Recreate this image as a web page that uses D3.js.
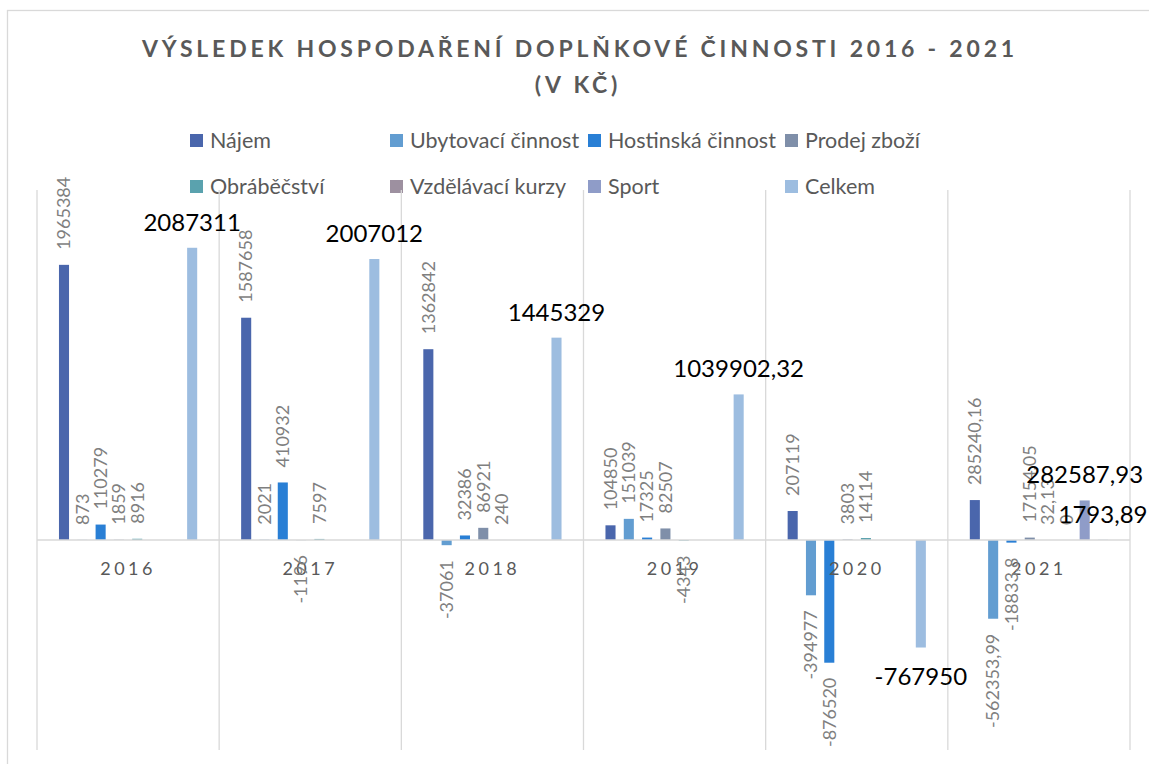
<!DOCTYPE html>
<html>
<head>
<meta charset="utf-8">
<script src="https://cdn.jsdelivr.net/npm/d3@7"></script>
<style>
  body { margin: 0; background: #fff; }
  svg { font-family: Lato, "Open Sans", sans-serif; }
</style>
</head>
<body>
<div id="chart"></div>
<script>
// data (Kč)
const years = ["2016", "2017", "2018", "2019", "2020", "2021"];
const seriesNames = ["Nájem", "Ubytovací činnost", "Hostinská činnost", "Prodej zboží",
                     "Obráběčství", "Vzdělávací kurzy", "Sport", "Celkem"];
const najem       = [1965384, 1587658, 1362842, 104850, 207119, 285240.16];
const ubytovani   = [873, 2021, -37061, 151039, -394977, -562353.99];
const hostinska   = [110279, 410932, 32386, 17325, -876520, -18833.8];
const prodej      = [1859, -1196, 86921, 82507, 3803, 17154.05];
const obrabecstvi = [8916, 7597, 240, -4343, 14114, 32.13];
const kurzy       = [null, null, null, null, null, 0];
const sport       = [null, null, null, null, null, 282587.93];
const celkem      = [2087311, 2007012, 1445329, 1039902.32, -767950, 1793.89];

const seriesValues = [najem, ubytovani, hostinska, prodej, obrabecstvi, kurzy, sport, celkem];
const colors = ["#4a66ac", "#629dd1", "#297fd5", "#7f8fa9", "#5aa2ae", "#9d90a0", "#8f9cc8", "#9dbde0"];
// series with big black horizontal labels
const bigLabel = ["Sport", "Celkem"];

const width = 1149, height = 764;
const plot = { left: 37, right: 1130, top: 190, bottom: 750 };

const svg = d3.select("#chart").append("svg")
    .attr("width", width)
    .attr("height", height);

// outer chart frame
svg.append("rect")
    .attr("x", 7.5).attr("y", 10.5)
    .attr("width", 1200).attr("height", 800)
    .attr("fill", "none")
    .attr("stroke", "#d9d9d9")
    .attr("stroke-width", 1.3);

const x0 = d3.scaleBand()
    .domain(years)
    .range([plot.left, plot.right])
    .padding(0);

const x1 = d3.scaleBand()
    .domain(seriesNames)
    .range([0, x0.bandwidth()])
    .paddingInner(0.45)
    .paddingOuter(1.2);

const y = d3.scaleLinear()
    .domain([-1500000, 2500000])
    .range([plot.bottom, plot.top]);

const fmt = v => String(v).replace(".", ",");

// title
const title = svg.append("text")
    .attr("text-anchor", "middle")
    .attr("fill", "#595959")
    .style("font-size", "23px")
    .style("font-weight", "bold")
    .style("letter-spacing", "3.8px");
title.append("tspan").attr("x", 580).attr("y", 57)
    .text("VÝSLEDEK HOSPODAŘENÍ DOPLŇKOVÉ ČINNOSTI 2016 - 2021");
title.append("tspan").attr("x", 578).attr("y", 93)
    .text("(V KČ)");

// legend
const legendCols = [190, 390, 588, 785];
const legend = svg.append("g")
    .selectAll("g")
    .data(seriesNames)
    .join("g")
    .attr("transform", (d, i) => `translate(${legendCols[i % 4]},${i < 4 ? 134 : 180})`);
legend.append("rect")
    .attr("width", 13).attr("height", 13)
    .attr("fill", (d, i) => colors[i]);
legend.append("text")
    .attr("x", 20).attr("y", 14)
    .attr("fill", "#595959")
    .style("font-size", "21.5px")
    .text(d => d);

// vertical gridlines at category boundaries
const bounds = years.map(d => x0(d)).concat([plot.right]);
svg.append("g")
    .selectAll("line")
    .data(bounds)
    .join("line")
    .attr("x1", d => d).attr("x2", d => d)
    .attr("y1", plot.top).attr("y2", plot.bottom)
    .attr("stroke", "#d9d9d9")
    .attr("stroke-width", 1.3);

// bars
const groups = svg.append("g")
    .selectAll("g")
    .data(seriesNames)
    .join("g")
    .attr("fill", (d, i) => colors[i]);

const cells = (name, i) => years.map((yr, j) => ({ series: name, year: yr, value: seriesValues[i][j] }))
    .filter(d => d.value !== null);

groups.selectAll("rect")
    .data((d, i) => cells(d, i))
    .join("rect")
    .attr("x", d => x0(d.year) + x1(d.series))
    .attr("width", x1.bandwidth())
    .attr("y", d => y(Math.max(0, d.value)))
    .attr("height", d => Math.abs(y(d.value) - y(0)));

// zero line
svg.append("line")
    .attr("x1", plot.left).attr("x2", plot.right)
    .attr("y1", y(0)).attr("y2", y(0))
    .attr("stroke", "#d9d9d9")
    .attr("stroke-width", 1.3);

// category axis
const xAxis = d3.axisBottom(x0).tickSize(0).tickPadding(22);
const axisG = svg.append("g")
    .attr("transform", `translate(0,${y(0)})`)
    .call(xAxis);
axisG.select(".domain").remove();
axisG.selectAll("text")
    .attr("fill", "#595959")
    .style("font-family", "Lato, 'Open Sans', sans-serif")
    .style("font-size", "18px")
    .style("letter-spacing", "3.5px");

// data labels
const allCells = seriesNames.flatMap((s, i) => cells(s, i));
const cx = d => x0(d.year) + x1(d.series) + x1.bandwidth() / 2;

svg.append("g")
    .selectAll("text")
    .data(allCells.filter(d => !bigLabel.includes(d.series)))
    .join("text")
    .attr("transform", d => {
        const yy = d.value >= 0 ? y(d.value) - 15 : y(d.value) + 15;
        return `translate(${cx(d)},${yy}) rotate(-90)`;
    })
    .attr("text-anchor", d => d.value >= 0 ? "start" : "end")
    .attr("dy", "0.35em")
    .attr("fill", "#7f7f7f")
    .style("font-size", "18px")
    .text(d => fmt(d.value));

svg.append("g")
    .selectAll("text")
    .data(allCells.filter(d => bigLabel.includes(d.series)))
    .join("text")
    .attr("x", cx)
    .attr("y", d => d.value >= 0 ? y(d.value) - 17 : y(d.value) + 37)
    .attr("text-anchor", "middle")
    .attr("fill", "#000")
    .style("font-size", "24px")
    .text(d => fmt(d.value));
</script>
</body>
</html>
